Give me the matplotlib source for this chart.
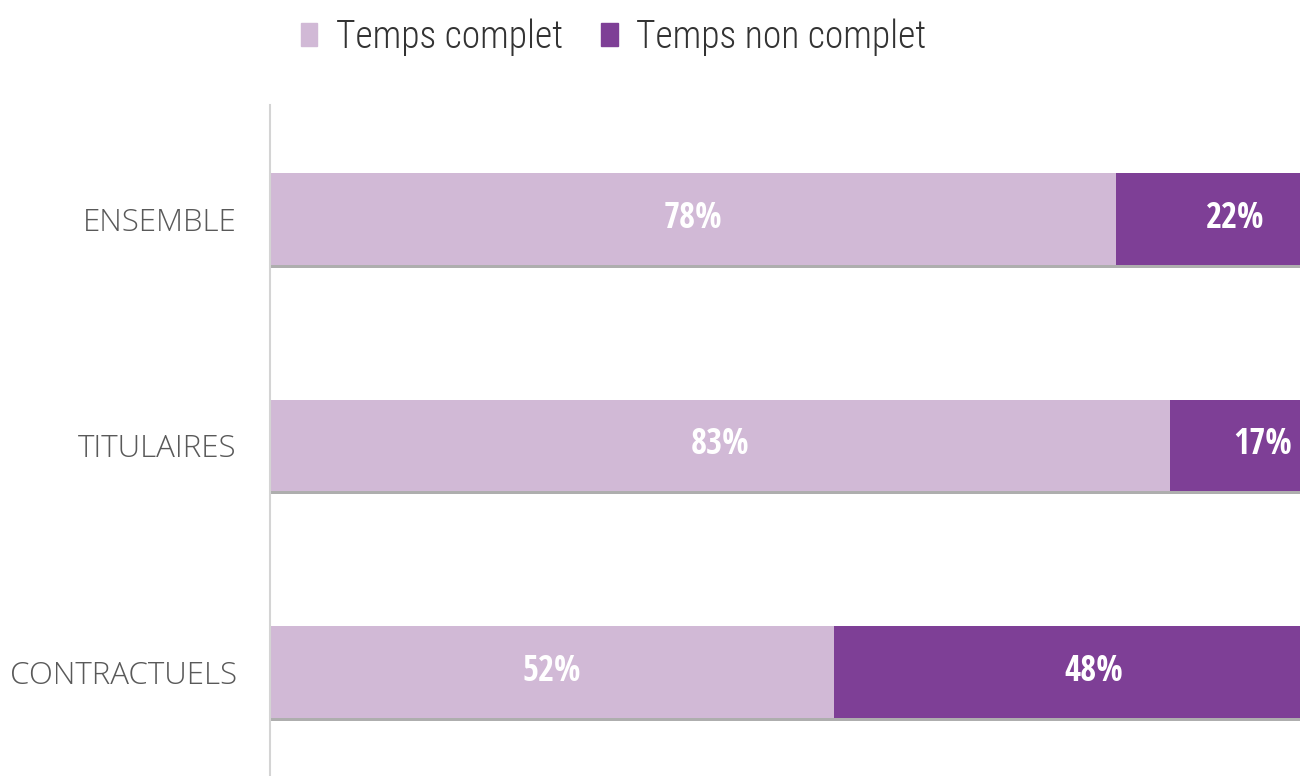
import matplotlib
matplotlib.use("Agg")
import matplotlib.pyplot as plt
from matplotlib.patches import Rectangle
from matplotlib import font_manager as fm

categories = ["ENSEMBLE", "TITULAIRES", "CONTRACTUELS"]
temps_complet = [78, 83, 52]
temps_non_complet = [22, 17, 48]
series_names = ["Temps complet", "Temps non complet"]

light = "#D1B9D6"
dark = "#7E3F96"

fonts = fm.fontManager.ttflist


def find(prefs, weights):
    for p in prefs:
        for w in weights:
            for f in fonts:
                if f.name == p and f.style == "normal" and int(f.weight) == w:
                    return fm.FontProperties(fname=f.fname)
    return None


cond_bold = find(["Open Sans Condensed", "Open Sans Condensed Bold", "PT Sans Narrow",
                  "Roboto Condensed", "Fira Sans Condensed"], [700, 800, 600])
cond_light = find(["Open Sans Condensed Light", "Open Sans Condensed", "Fira Sans Condensed Light",
                   "Fira Sans Extra Condensed Light", "Roboto Condensed Light", "Roboto Condensed",
                   "PT Sans Narrow", "Fira Sans Condensed"], [300, 200, 400])

fig = plt.figure(figsize=(13, 7.76), dpi=100)
x0 = 270 / 1300
full = 1084.5 / 1300
ax = fig.add_axes([x0, 0, full, 1 - 105 / 776])

ypos = list(range(len(categories)))
h = 0.405
for y in ypos:
    ax.barh(y + 0.013, 100, height=h, color="#9a9a9a", zorder=1, alpha=0.8)
ax.barh(ypos, temps_complet, height=h, color=light, zorder=2)
ax.barh(ypos, temps_non_complet, left=temps_complet, height=h, color=dark, zorder=2)


def props(fp, size, fallback_weight="normal"):
    if fp is None:
        return dict(fontsize=size, family="DejaVu Sans", fontweight=fallback_weight)
    p = fp.copy()
    p.set_size(size)
    return dict(fontproperties=p)


for y, a, b in zip(ypos, temps_complet, temps_non_complet):
    ax.text(a / 2, y, f"{a}%", ha="center", va="center", color="white", zorder=3,
            **props(cond_bold, 25, "bold"))
    ax.text(a + b / 2, y, f"{b}%", ha="center", va="center", color="white", zorder=3,
            **props(cond_bold, 25, "bold"))

ax.set_xlim(0, 100)
ax.set_ylim(2.46, -0.503)
ax.set_yticks(ypos)
ax.set_yticklabels(categories, fontsize=22.5, color="#595959",
                   family=["Open Sans", "DejaVu Sans"], fontweight="light")
ax.tick_params(axis="y", length=0, pad=24)
ax.set_xticks([])
for s in ["top", "right", "bottom"]:
    ax.spines[s].set_visible(False)
ax.spines["left"].set_color("#D4D4D4")
ax.spines["left"].set_linewidth(1.5)

if cond_light is not None:
    lp = cond_light.copy()
    lp.set_size(27)
else:
    lp = fm.FontProperties(family="DejaVu Sans", size=22)
handles = [Rectangle((0, 0), 1, 1, color=light), Rectangle((0, 0), 1, 1, color=dark)]
fig.legend(handles, series_names, loc="upper center", bbox_to_anchor=(0.472, 1.02),
           ncol=2, frameon=False, handlelength=0.45, handleheight=0.56, handletextpad=0.5,
           columnspacing=1.0, prop=lp, labelcolor="#333333")

fig.savefig("out.png", dpi=100)
